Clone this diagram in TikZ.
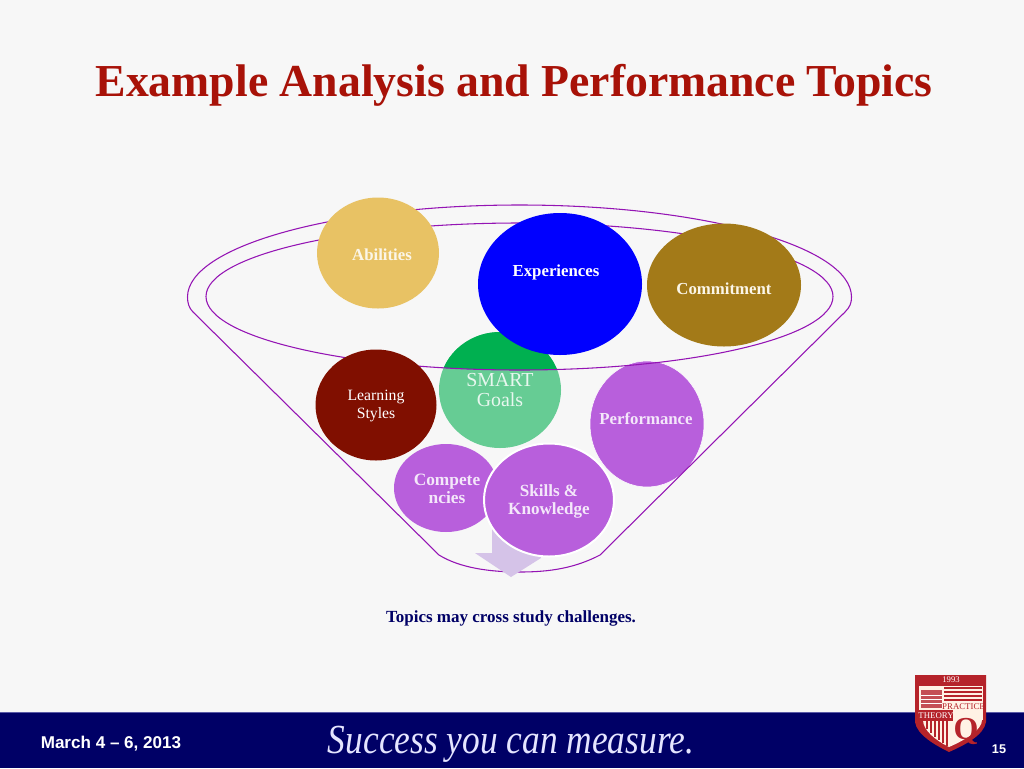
\documentclass[tikz,border=0pt]{standalone}
\usepackage{fontspec}
\setmainfont{Liberation Serif}
\setsansfont{Liberation Sans}
\usepackage{xcolor}
\usetikzlibrary{shapes.geometric,calc}
\definecolor{titlered}{HTML}{A81208}
\definecolor{footnavy}{HTML}{000066}
\definecolor{funnelline}{HTML}{9414B4}
\definecolor{sand}{HTML}{E8C264}
\definecolor{bronze}{HTML}{A37A18}
\definecolor{maroon}{HTML}{800F00}
\definecolor{orchid}{HTML}{B85FDC}
\definecolor{lightgreen}{HTML}{66CC94}
\definecolor{darkgreen}{HTML}{00B050}
\definecolor{shieldred}{HTML}{B5232A}
\definecolor{paleviolet}{HTML}{D5C3E8}

\begin{document}
\begin{tikzpicture}[
  x=0.75pt, y=-0.75pt,
  blob/.style 2 args={ellipse, inner sep=0pt, outer sep=0pt,
                minimum width=#1*0.75pt, minimum height=#2*0.75pt},
  blobtxt/.style={align=center, inner sep=0pt, font=\bfseries\fontsize{12.6}{14.5}\selectfont},
  funnel/.style={draw=funnelline, line width=0.8pt},
  rim/.style={draw=white, line width=1.5pt}
]
\useasboundingbox (0,0) rectangle (1024,768);
\fill[white!97!black] (0,0) rectangle (1024,768);

% ---- title ----
\node[text=titlered, font=\bfseries\fontsize{34.3}{40}\selectfont] (title) at (514,85)
  {Example Analysis and Performance Topics};

% ---- these two circles go under the funnel line ----
\node[blob={122}{116}, fill=lightgreen] (smart) at (500,390) {};
\begin{scope}
  \clip (519.5,296.5) ellipse (313.5 and 73.5);
  \fill[darkgreen] (500,390) ellipse (61 and 58);
\end{scope}
\node[blob={114}{126}, fill=orchid, draw=white] (performance) at (647,424) {};

% ---- funnel ----
\draw[funnel] (206,296.5) arc[start angle=180, end angle=540, x radius=313.5, y radius=73.5];
\draw[funnel] (193,312) .. controls (189,308) and (187.5,303) .. (187.5,297)
  arc[start angle=180, end angle=360, x radius=332, y radius=92]
  .. controls (851.5,303) and (850,307) .. (845,312)
  -- (600,555) .. controls (575,568) and (550,572) .. (520,572)
  .. controls (490,572) and (460,568) .. (439,555) -- cycle;

% ---- arrow under the skills circle ----
\fill[paleviolet] (492,520) -- (492,553) -- (475,553) -- (511,577) -- (541,558) -- (535,520) -- cycle;

% ---- circles ----
\node[blob={122}{111}, fill=sand] (abilities) at (378,253) {};
\node[blob={164}{142}, fill=blue] (experiences) at (560,284) {};
\node[blob={154}{123}, fill=bronze] (commitment) at (724,285) {};
\node[blob={121}{111}, fill=maroon] (learning) at (376,405) {};
\node[blob={104}{88}, fill=orchid] (competencies) at (446,488) {};
\node[blob={130}{113}, fill=orchid, rim] (skills) at (549,500) {};

% ---- circle texts ----
\node[blobtxt, text=white!85!sand] (abilitiestxt) at (382,255) {Abilities};
\node[blobtxt, text=white] (experiencestxt) at (556,272) {Experiences};
\node[blobtxt, text=white!85!sand] (commitmenttxt) at (724,289) {Commitment};
\node[blobtxt, text=white, font=\fontsize{11.8}{12.8}\selectfont] (learningtxt) at (376,406) {Learning\\Styles};
\node[blobtxt, text=white!85!lightgreen, font=\fontsize{14.9}{15}\selectfont] (smarttxt) at (500,390) {SMART\\Goals};
\node[blobtxt, text=white!85!orchid] (performancetxt) at (646,419) {Performance};
\node[blobtxt, text=white!85!orchid, font=\bfseries\fontsize{13}{13.5}\selectfont] (competenciestxt) at (447,489) {Compete\\ncies};
\node[blobtxt, text=white!85!orchid, font=\bfseries\fontsize{12.8}{13.5}\selectfont] (skillstxt) at (549,501) {Skills \&\\Knowledge};

% ---- caption ----
\node[text=footnavy, font=\bfseries\fontsize{12.75}{14}\selectfont] (caption) at (511,618)
  {Topics may cross study challenges.};

% ---- footer ----
\fill[footnavy] (0,712) rectangle (1024,768);
\draw[blue!30!gray, line width=0.5pt] (0,712) -- (1024,712);
\node[text=white, font=\sffamily\bfseries\fontsize{12.8}{14}\selectfont] (date) at (111,744) {March 4 -- 6, 2013};
\node[text=white!90!blue, font=\itshape\fontsize{31}{34}\selectfont] (slogan) at (511,744)
  {\scalebox{0.856}[1]{Success you can measure.}};
\node[text=white, font=\sffamily\bfseries\fontsize{9.5}{11}\selectfont] (pagenum) at (999,749) {15};

% ---- shield ----
\fill[shieldred] (915,675) -- (986,675) -- (986,722) .. controls (984,735) and (965,745) .. (949,752)
  .. controls (935,745) and (917,735) .. (915,722) -- cycle;
\fill[white!90!orange] (919,686) rectangle (983,720);
\fill[white!90!orange] (923,720) .. controls (923,730) and (935,740) .. (949,747)
  .. controls (965,740) and (982,730) .. (982,720) -- cycle;
\node[text=white, font=\fontsize{6.5}{7}\selectfont] (year) at (951,680) {1993};
\foreach \y in {688,692,696,700}{
  \draw[shieldred, line width=0.8pt] (944,\y) -- (982,\y);
}
\fill[shieldred!80] (921,690) rectangle (942,708);
\foreach \y in {695,699,703}{
  \draw[white, line width=0.5pt] (921,\y) -- (942,\y);
}
\foreach \x/\e in {927/729,931/733,935/737,939/740,943/743,947/746}{
  \draw[shieldred, line width=0.8pt] (\x,721) -- (\x,\e);
}
\fill[shieldred] (919,710) rectangle (953,721);
\node[text=shieldred, font=\fontsize{6.6}{8}\selectfont] (practice) at (963.5,706.5) {PRACTICE};
\node[text=white, font=\fontsize{6.6}{8}\selectfont] (theory) at (936,715.5) {THEORY};
\node[text=shieldred, font=\bfseries\fontsize{24}{26}\selectfont] (shieldq) at (966,731) {Q};
\end{tikzpicture}
\end{document}
